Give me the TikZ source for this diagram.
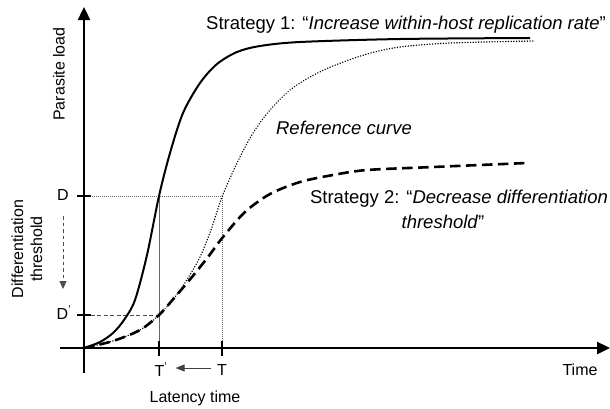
\documentclass[tikz,border=0pt]{standalone}
\usepackage{fontspec}
\setmainfont{Liberation Sans}
\usetikzlibrary{arrows.meta}
\begin{document}
\begin{tikzpicture}[x=1pt,y=-1pt,
  axis/.style={line width=2.4pt, -{Triangle[length=13pt,width=12pt]}},
  tickmark/.style={line width=2pt},
  guide/.style={line width=0.7pt, black!60},
  guidedot/.style={line width=0.8pt, black!60, dash pattern=on 0.8pt off 1.2pt},
  guidedash/.style={line width=0.8pt, black!70, dash pattern=on 4pt off 2.5pt},
  big/.style={font=\fontsize{18.5}{22}\selectfont, inner sep=0pt},
  lab/.style={font=\fontsize{16}{19}\selectfont, inner sep=0pt},
  curveone/.style={line width=2pt},
  refcurve/.style={line width=1.6pt, line cap=round, dash pattern=on 0.01pt off 2.7pt},
  curvetwo/.style={line width=2.6pt, dash pattern=on 10.5pt off 5.5pt},
]
\useasboundingbox (0,0) rectangle (610,408);

% key coordinates
\coordinate (O) at (84,348);
\coordinate (ybot) at (84,373);
\coordinate (ytop) at (84,7);
\coordinate (xbeg) at (60,348);
\coordinate (xend) at (610,348);
\coordinate (Dy) at (84,196);
\coordinate (Dpy) at (84,315);
\coordinate (TD) at (222,196);
\coordinate (TpD) at (159,196);
\coordinate (TpDp) at (159,315);
\coordinate (Tx) at (222,348);
\coordinate (Tpx) at (159,348);

% guide lines
\draw[guidedot] (Dy) -- (TD) -- (Tx);
\draw[guide] (TpD) -- (Tpx);
\draw[guidedash] (Dpy) -- (TpDp);

% axes
\draw[axis] (ybot) -- (ytop);
\draw[axis] (xbeg) -- (xend);

% ticks
\draw[tickmark] ([xshift=-7pt]Dy) -- ([xshift=7pt]Dy);
\draw[tickmark] ([xshift=-7pt]Dpy) -- ([xshift=7pt]Dpy);
\draw[tickmark] ([yshift=7pt]Tx) -- ([yshift=-8pt]Tx);
\draw[tickmark] ([yshift=7pt]Tpx) -- ([yshift=-8pt]Tpx);

% reference curve (dotted)
\draw[refcurve] plot[smooth] coordinates {(84,348) (113,341) (140,330) (159,315) (175,297) (188,278) (200,257) (211,230) (222,197) (237,163) (253,133) (270,110) (290,90) (310,77) (333,66) (367,54) (400,47) (450,43) (533,41)};

% strategy 2 (dashed)
\draw[curvetwo] plot[smooth] coordinates {(84,348) (113,341) (140,330) (159,315) (175,297) (192,277) (208,257) (223,237) (245,212) (270,194) (300,182) (333,175) (367,170) (433,167) (527,163)};

% strategy 1 (solid)
\draw[curveone] plot[smooth] coordinates {(84,348) (100,342) (113,333) (124,320) (135,300) (147,255) (159,196) (170,153) (183,113) (200,83) (217,64) (237,52) (260,46) (300,42) (400,39) (530,38)};

% labels
\node[lab, rotate=90] (ylab) at (59,74) {Parasite load};
\node[lab, rotate=90, align=center] (dthr) at (27,249) {Differentiation\\threshold};
\coordinate (darrtop) at (63,216);
\coordinate (darrbot) at (63,289);
\draw[line width=1pt, black!70, dash pattern=on 3.5pt off 3pt, -{Triangle[length=8pt,width=7pt]}] (darrtop) -- (darrbot);
\node[lab] (Dlab) at (63,195) {D};
\node[lab] (Dplab) at (64,313) {D\textsuperscript{'}};
\node[lab] (Tplab) at (161,370) {T\textsuperscript{'}};
\node[lab] (Tlab) at (222,370) {T};
\draw[line width=1pt, black!75, -{Triangle[length=9pt,width=7pt]}] ([xshift=-6pt,yshift=2pt]Tlab.west) -- ([xshift=8pt,yshift=2pt]Tplab.east);
\node[lab] (lat) at (195,398) {Latency time};
\node[lab] (time) at (580,370) {Time};

\node[big] (s1) at (406,25) {Strategy 1: “\textit{Increase within-host replication rate}”};
\node[big] (refl) at (344,128) {\textit{Reference curve}};
\node[big] (s2a) at (459,199) {Strategy 2: “\textit{Decrease differentiation}};
\node[big] (s2b) at (443,222) {\textit{threshold}”};
\end{tikzpicture}
\end{document}
